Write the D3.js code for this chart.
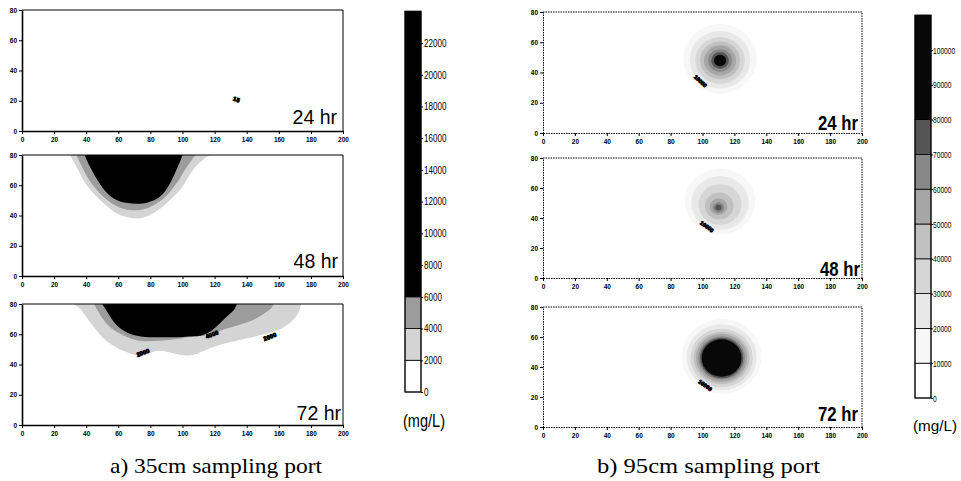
<!DOCTYPE html>
<html><head><meta charset="utf-8">
<script src="https://cdn.jsdelivr.net/npm/d3@7"></script>
<style>
body{margin:0;background:#fff;}
svg{display:block;}
.tk text{font-family:Arial,"Liberation Sans",sans-serif;font-weight:bold;font-size:6.5px;fill:#000;}
</style></head><body>
<svg id="c" width="961" height="481"></svg>
<script>
// ---------- data ----------
const xTicks = [0,20,40,60,80,100,120,140,160,180,200];
const yTicks = [0,20,40,60,80];
const timeLabels = ["24 hr","48 hr","72 hr"];

// left (35cm port) contour levels, mg/L
const leftLevels = [2000,4000,6000];
const leftCbTicks = [0,2000,4000,6000,8000,10000,12000,14000,16000,18000,20000,22000];
// contour boundary outlines [x, y] (level >= value inside)
const left24_2000 = [];
const left24_4000 = [];
const left24_6000 = [];
const left48_2000 = [[30,80],[33,74],[37,66],[41,59],[46,53],[52,47],[58,42],[65,39],[72,38],[78,39.5],[84,43],[90,48],[95,53],[100,59],[104,66],[108,72],[113,77],[117,80]];
const left48_4000 = [[34,80],[37,73],[41,65],[45,59],[50,53],[56,48],[63,44.5],[70,43.5],[77,44.5],[83,47.5],[89,52],[94,58],[98,64],[102,71],[106,77],[108,80]];
const left48_6000 = [[39,80],[42,73],[45,67],[48.5,61],[52,56],[56,52],[61,49.3],[66,48.2],[72,47.8],[78,48.5],[84,51],[88,54.5],[91,59],[94,65],[97,72],[99,77],[100,80]];
const left72_2000 = [[32,80],[36,77],[39,73],[43,67],[47,62],[51,57],[56,53],[61,50],[66,48],[72,46],[78,47],[84,49],[90,48.5],[96,47],[102,46],[107,46.5],[112,48.5],[118,51],[125,53.5],[133,55.5],[141,57.5],[149,59.5],[156,61.5],[162,64],[167,67.5],[171,72],[173,76],[174,80]];
const left72_4000 = [[45,80],[48,74],[52,68],[57,63],[62,60],[68,57],[75,55.5],[82,55.5],[90,56],[98,57],[106,58.5],[113,59],[120,61],[128,64],[136,66.5],[144,69.5],[150,73],[155,77],[157,80]];
const left72_6000 = [[50,80],[53,75],[56,70],[60,65],[64,62],[68,60],[74,58.5],[80,58],[88,58],[96,58],[104,58.5],[111,59],[116,61],[120,64],[124,68],[128,72],[132,76],[134,80]];
const left24_labels = [{x:133.5,y:20.5,t:"15",a:20}];
const left48_labels = [];
const left72_labels = [{x:75.5,y:47.5,t:"2000",a:-20},{x:118.5,y:59.5,t:"4000",a:-20},{x:154.5,y:58,t:"2000",a:-20}];

// right (95cm port) contour levels, mg/L
const rightLevels = [10000,20000,30000,40000,50000,60000,70000,80000];
const rightCbTicks = [0,10000,20000,30000,40000,50000,60000,70000,80000,90000,100000];
// concentric contour rings: [level, centre x, centre y, radius]
const right24_rings = [[10000,111,49,23],[20000,111,48.5,19],[30000,111,48,15.5],[40000,111,48,12.5],[50000,111,48,10],[60000,111,48,7.5],[70000,111,48,5.5],[80000,111,48,3.8]];
const right48_rings = [[10000,111,51,22],[20000,111,50,18],[30000,111,49,13.5],[40000,110.5,48,9],[50000,110,47.5,5.5],[60000,110,47,3.5],[70000,110,47,2]];
const right72_rings = [[10000,112,47,25],[20000,112,46.5,22],[30000,112,46,19.5],[40000,112,46,17.5],[50000,112,46,16],[60000,112,46,14.5],[70000,112,46,13.5],[80000,112,46,12.5]];
const right24_labels = [{x:98.5,y:34,t:"10000",a:42}];
const right48_labels = [{x:102.5,y:34,t:"10000",a:36}];
const right72_labels = [{x:101.5,y:27.5,t:"10000",a:36}];

const captions = ["a) 35cm sampling port","b) 95cm sampling port"];
const unitLabel = "(mg/L)";

// ---------- styles ----------
const leftColors = {2000:"#d4d4d4",4000:"#9c9c9c",6000:"#000"};
const rightColors = {10000:"#f7f7f7",20000:"#e8e8e8",30000:"#d6d6d6",40000:"#c0c0c0",50000:"#a6a6a6",60000:"#888",70000:"#555",80000:"#080808"};

const svg = d3.select("#c");
const sans = "Arial,'Liberation Sans',sans-serif";

const leftX = [22,343], rightX = [543,862];
const leftPanels = [
  {top:10,bot:131,bands:{2000:left24_2000,4000:left24_4000,6000:left24_6000},labels:left24_labels,lab:[337,124]},
  {top:155,bot:276,bands:{2000:left48_2000,4000:left48_4000,6000:left48_6000},labels:left48_labels,lab:[338,268]},
  {top:304,bot:425,bands:{2000:left72_2000,4000:left72_4000,6000:left72_6000},labels:left72_labels,lab:[341,420]}
];
const rightPanels = [
  {top:12,bot:133,rings:right24_rings,labels:right24_labels,lab:[858,130]},
  {top:158,bot:278,rings:right48_rings,labels:right48_labels,lab:[860,276]},
  {top:307,bot:427,rings:right72_rings,labels:right72_labels,lab:[858,421]}
];

function axes(g,x,y,top,bot,dotted){
  const ax = g.append("g").attr("class","tk").attr("transform",`translate(0,${bot})`)
    .call(d3.axisBottom(x).tickValues(xTicks).tickSize(3).tickSizeOuter(0).tickPadding(3));
  const ay = g.append("g").attr("class","tk").attr("transform",`translate(${x.range()[0]},0)`)
    .call(d3.axisLeft(y).tickValues(yTicks).tickSize(3).tickSizeOuter(0).tickPadding(2));
  [ax,ay].forEach(a=>{
    a.select(".domain").attr("stroke","#000").attr("stroke-width",dotted?1:1.6);
    a.selectAll(".tick line").attr("stroke","#000");
    if(dotted) a.select(".domain").attr("stroke-dasharray","1.5,1");
  });
  g.append("path").attr("d",`M${x.range()[0]},${top}H${x.range()[1]}V${bot}`)
    .attr("fill","none").attr("stroke","#000").attr("stroke-width",1)
    .attr("stroke-dasharray",dotted?"1.5,1":null);
}

function contourLabels(g,x,y,labels,size){
  labels.forEach(l=>{
    g.append("text").attr("transform",`translate(${x(l.x)},${y(l.y)}) rotate(${l.a})`)
      .attr("text-anchor","middle").attr("dominant-baseline","middle")
      .attr("font-family",sans).attr("font-weight","bold").attr("font-size",size)
      .attr("fill","#000").attr("stroke","#000").attr("stroke-width",0.8).text(l.t);
  });
}

leftPanels.forEach((p,i)=>{
  const x = d3.scaleLinear().domain([0,200]).range(leftX);
  const y = d3.scaleLinear().domain([0,80]).range([p.bot,p.top]);
  const g = svg.append("g");
  const cid = "clipL"+i;
  svg.append("clipPath").attr("id",cid).append("rect")
    .attr("x",leftX[0]).attr("y",p.top).attr("width",leftX[1]-leftX[0]).attr("height",p.bot-p.top);
  const cg = g.append("g").attr("clip-path",`url(#${cid})`);
  const line = d3.line().x(d=>x(d[0])).y(d=>y(d[1])).curve(d3.curveCatmullRom);
  leftLevels.forEach(lv=>{
    const pts = p.bands[lv];
    if(!pts.length) return;
    cg.append("path").attr("d",line(pts)+"Z").attr("fill",leftColors[lv]);
  });
  contourLabels(cg,x,y,p.labels,6);
  axes(g,x,y,p.top,p.bot,false);
  g.append("text").attr("x",p.lab[0]).attr("y",p.lab[1]).attr("text-anchor","end")
    .attr("font-family",sans).attr("font-size",19.5)
    .attr("fill","#000").text(timeLabels[i]);
});

rightPanels.forEach((p,i)=>{
  const x = d3.scaleLinear().domain([0,200]).range(rightX);
  const y = d3.scaleLinear().domain([0,80]).range([p.bot,p.top]);
  const g = svg.append("g");
  const cid = "clipR"+i;
  svg.append("clipPath").attr("id",cid).append("rect")
    .attr("x",rightX[0]).attr("y",p.top).attr("width",rightX[1]-rightX[0]).attr("height",p.bot-p.top);
  const cg = g.append("g").attr("clip-path",`url(#${cid})`);
  cg.selectAll("ellipse").data(p.rings).join("ellipse")
    .attr("cx",d=>x(d[1])).attr("cy",d=>y(d[2]))
    .attr("rx",d=>x(d[3])-x(0)).attr("ry",d=>y(0)-y(d[3]))
    .attr("fill",d=>rightColors[d[0]]);
  contourLabels(cg,x,y,p.labels,5.5);
  axes(g,x,y,p.top,p.bot,true);
  g.append("text").attr("x",p.lab[0]-40).attr("y",p.lab[1])
    .attr("textLength",40).attr("lengthAdjust","spacingAndGlyphs")
    .attr("font-family",sans).attr("font-size",20).attr("font-weight","bold")
    .attr("fill","#000").text(timeLabels[i]);
});

// ---------- colour bars ----------
function colorBar(x0,w,scale,maxVal,levels,colors,ticks,fs,sx,pad){
  const g = svg.append("g");
  const bounds = [0].concat(levels).concat([maxVal]);
  for(let k=0;k<bounds.length-1;k++){
    const c = k===0 ? "#fff" : colors[levels[k-1]];
    g.append("rect").attr("x",x0).attr("width",w)
      .attr("y",scale(bounds[k+1])).attr("height",scale(bounds[k])-scale(bounds[k+1]))
      .attr("fill",c).attr("stroke","#000").attr("stroke-width",0.8);
  }
  g.append("rect").attr("x",x0).attr("y",scale(maxVal)).attr("width",w)
    .attr("height",scale(0)-scale(maxVal)).attr("fill","none").attr("stroke","#000").attr("stroke-width",1);
  const ax = g.append("g").attr("transform",`translate(${x0+w},0)`)
    .call(d3.axisRight(scale).tickValues(ticks).tickSize(2).tickPadding(pad).tickFormat(d3.format("d")));
  ax.select(".domain").remove();
  ax.selectAll("text").attr("font-family",sans).attr("font-size",fs).attr("fill","#000")
    .attr("x",null).attr("transform",`translate(${2+pad},0) scale(${sx},1)`);
  ax.selectAll(".tick line").attr("stroke","#000");
}
const cbL = d3.scaleLinear().domain([0,22000]).range([392,43]);
colorBar(405,16,cbL,24000,leftLevels,leftColors,leftCbTicks,10.5,0.77,1);
const cbR = d3.scaleLinear().domain([0,100000]).range([398,50]);
colorBar(915,16,cbR,110000,rightLevels,rightColors,rightCbTicks,9.5,0.7,0);

svg.append("text").attr("x",403).attr("y",427).attr("textLength",42).attr("lengthAdjust","spacingAndGlyphs")
  .attr("font-family",sans).attr("font-size",19).attr("fill","#000").text(unitLabel);
svg.append("text").attr("x",913).attr("y",431).attr("textLength",44).attr("lengthAdjust","spacingAndGlyphs")
  .attr("font-family",sans).attr("font-size",14).attr("fill","#000").text(unitLabel);

// captions
svg.append("text").attr("x",110).attr("y",473).attr("textLength",212).attr("lengthAdjust","spacingAndGlyphs")
  .attr("font-family","'Liberation Serif','DejaVu Serif',serif").attr("font-size",22).attr("fill","#000").text(captions[0]);
svg.append("text").attr("x",597).attr("y",473).attr("textLength",223).attr("lengthAdjust","spacingAndGlyphs")
  .attr("font-family","'Liberation Serif','DejaVu Serif',serif").attr("font-size",22).attr("fill","#000").text(captions[1]);
</script>
</body></html>
